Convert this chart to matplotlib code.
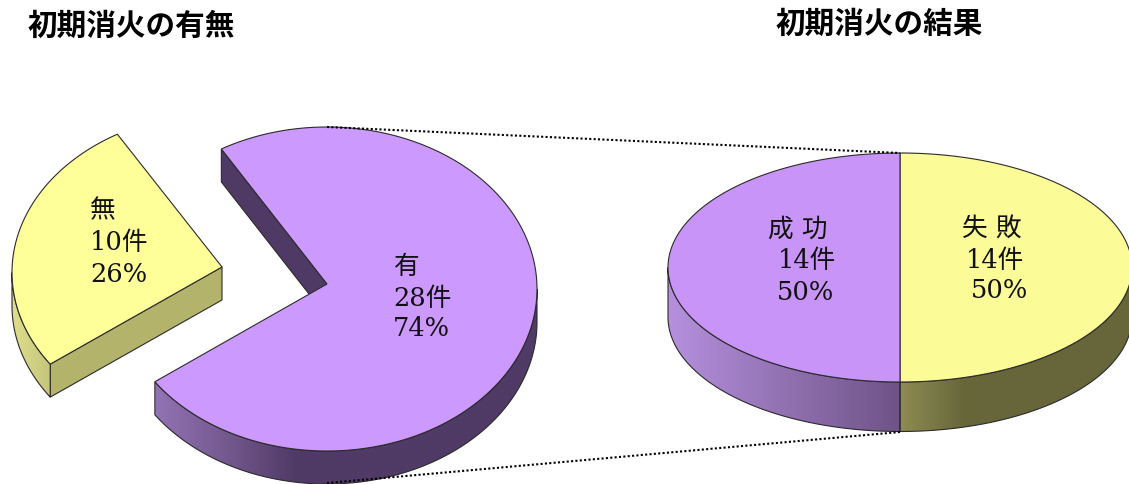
import numpy as np
import matplotlib
matplotlib.use('Agg')
import matplotlib.pyplot as plt
from matplotlib.patches import Polygon
from matplotlib.colors import to_rgb

# left pie
left_names = ['有', '無']
left_counts = [28, 10]
# right pie
right_names = ['失 敗', '成 功']
right_counts = [14, 14]

title_left = '初期消火の有無'
title_right = '初期消火の結果'

EDGE = '#2b2b2b'
SERIF = ['DejaVu Serif', 'Noto Sans CJK JP']
GOTHIC = ['Noto Sans CJK JP', 'DejaVu Sans']


def arc(cx, cy, rx, ry, a0, a1, n=200):
    t = np.radians(np.linspace(a0, a1, n))
    return np.column_stack([cx + rx * np.cos(t), cy - ry * np.sin(t)])


def side(cx, cy, rx, ry, depth, a0, a1, xs, cols):
    # outer wall of the pie between two angles, shaded left to right
    pts = arc(cx, cy, rx, ry, a0, a1)
    low = pts[::-1] + [0, depth]
    outline = np.vstack([pts, low])
    x0, x1 = outline[:, 0].min(), outline[:, 0].max()
    y0, y1 = outline[:, 1].min(), outline[:, 1].max()
    grid = np.linspace(x0, x1, 300)
    rgb = np.array([to_rgb(c) for c in cols])
    img = np.stack([np.interp(grid, xs, rgb[:, i]) for i in range(3)], axis=1)[None, :, :]
    im = ax.imshow(img, extent=(x0, x1, y1, y0), aspect='auto', zorder=2, interpolation='bilinear')
    clip = Polygon(outline, closed=True, transform=ax.transData)
    im.set_clip_path(clip)
    ax.add_patch(Polygon(outline, closed=True, fc='none', ec=EDGE, lw=0.8, zorder=2.1))


def flat(pts, color):
    ax.add_patch(Polygon(pts, closed=True, fc=color, ec=EDGE, lw=0.8, zorder=1.5))


def top(pts, color):
    ax.add_patch(Polygon(pts, closed=True, fc=color, ec=EDGE, lw=0.8, zorder=3))


fig = plt.figure(figsize=(11.29, 4.84), dpi=100)
ax = fig.add_axes([0, 0, 1, 1])

# angles come from the counts
start = 120.2
sweep_yes = 360 * left_counts[0] / sum(left_counts)
sweep_no = 360 * left_counts[1] / sum(left_counts)
end_yes = start - sweep_yes + 360      # same as the end of the "no" slice
rx, ry, depth = 210, 162, 33

# purple slice
cx, cy = 327, 289
apex = np.array([327, 284])
a = arc(cx, cy, rx, ry, start, start - sweep_yes)
flat([a[0], a[0] + [0, depth], apex + [0, depth], apex], '#4F3A66')
side(cx, cy, rx, ry, depth, end_yes, 360, [153, 225, 295], ['#9374B5', '#74598F', '#503A66'])
top(np.vstack([apex, a]), '#CC99FF')

# yellow slice, pulled out
cx2, cy2 = 224, 272.5
apex2 = np.array([222, 267])
ry2 = 160
b = arc(cx2, cy2, rx + 2, ry2, start, start + sweep_no)
flat([b[-1], b[-1] + [0, depth], apex2 + [0, depth], apex2], '#B3B36B')
side(cx2, cy2, rx + 2, ry2, depth, 180, start + sweep_no, [12, 49], ['#DEDE8C', '#C6C67C'])
top(np.vstack([apex2, b]), '#FFFF99')

# right pie
cx3, cy3, rx3, ry3, depth3 = 900, 267.5, 232, 114.5, 49.5
mid = 90 - 360 * right_counts[0] / sum(right_counts)
side(cx3, cy3, rx3, ry3, depth3, 180, 270, [668, 900], ['#B690DE', '#6E5386'])
side(cx3, cy3, rx3, ry3, depth3, 270, 360, [900, 965], ['#8E8C52', '#67663A'])
top(np.vstack([[cx3, cy3], arc(cx3, cy3, rx3, ry3, 90, mid)]), '#FBFB97')
top(np.vstack([[cx3, cy3], arc(cx3, cy3, rx3, ry3, mid, mid - 180)]), '#C994F8')

# leader lines
ax.plot([327, 900], [127, 153], color='black', lw=1.5, ls=(0, (1, 1.1)), zorder=4)
ax.plot([327, 900], [483, 432], color='black', lw=1.5, ls=(0, (1, 1.1)), zorder=4)


def label(y, lines, xs):
    for s, dy, xx in zip(lines, [0, 32, 63], xs):
        ax.text(xx, y + dy, s, family=SERIF, fontsize=18.5, color='#111111', ha='left', va='center', zorder=5)


def count_lines(name, n, total):
    return [name, f'{n}件', f'{round(100 * n / total)}%']


total_l = sum(left_counts)
total_r = sum(right_counts)
label(266, count_lines(left_names[0], left_counts[0], total_l), [394, 393, 393])
label(211, count_lines(left_names[1], left_counts[1], total_l), [90, 90, 90])
label(228, count_lines(right_names[0], right_counts[0], total_r), [962, 966, 971])
label(229, count_lines(right_names[1], right_counts[1], total_r), [768, 778, 777])

ax.text(28, 26, title_left, family=GOTHIC, fontsize=21.3, fontweight='bold', ha='left', va='center')
ax.text(776, 24, title_right, family=GOTHIC, fontsize=21.3, fontweight='bold', ha='left', va='center')

ax.set_xlim(0, 1129)
ax.set_ylim(484, 0)
ax.axis('off')
fig.savefig('out.png', dpi=100)
